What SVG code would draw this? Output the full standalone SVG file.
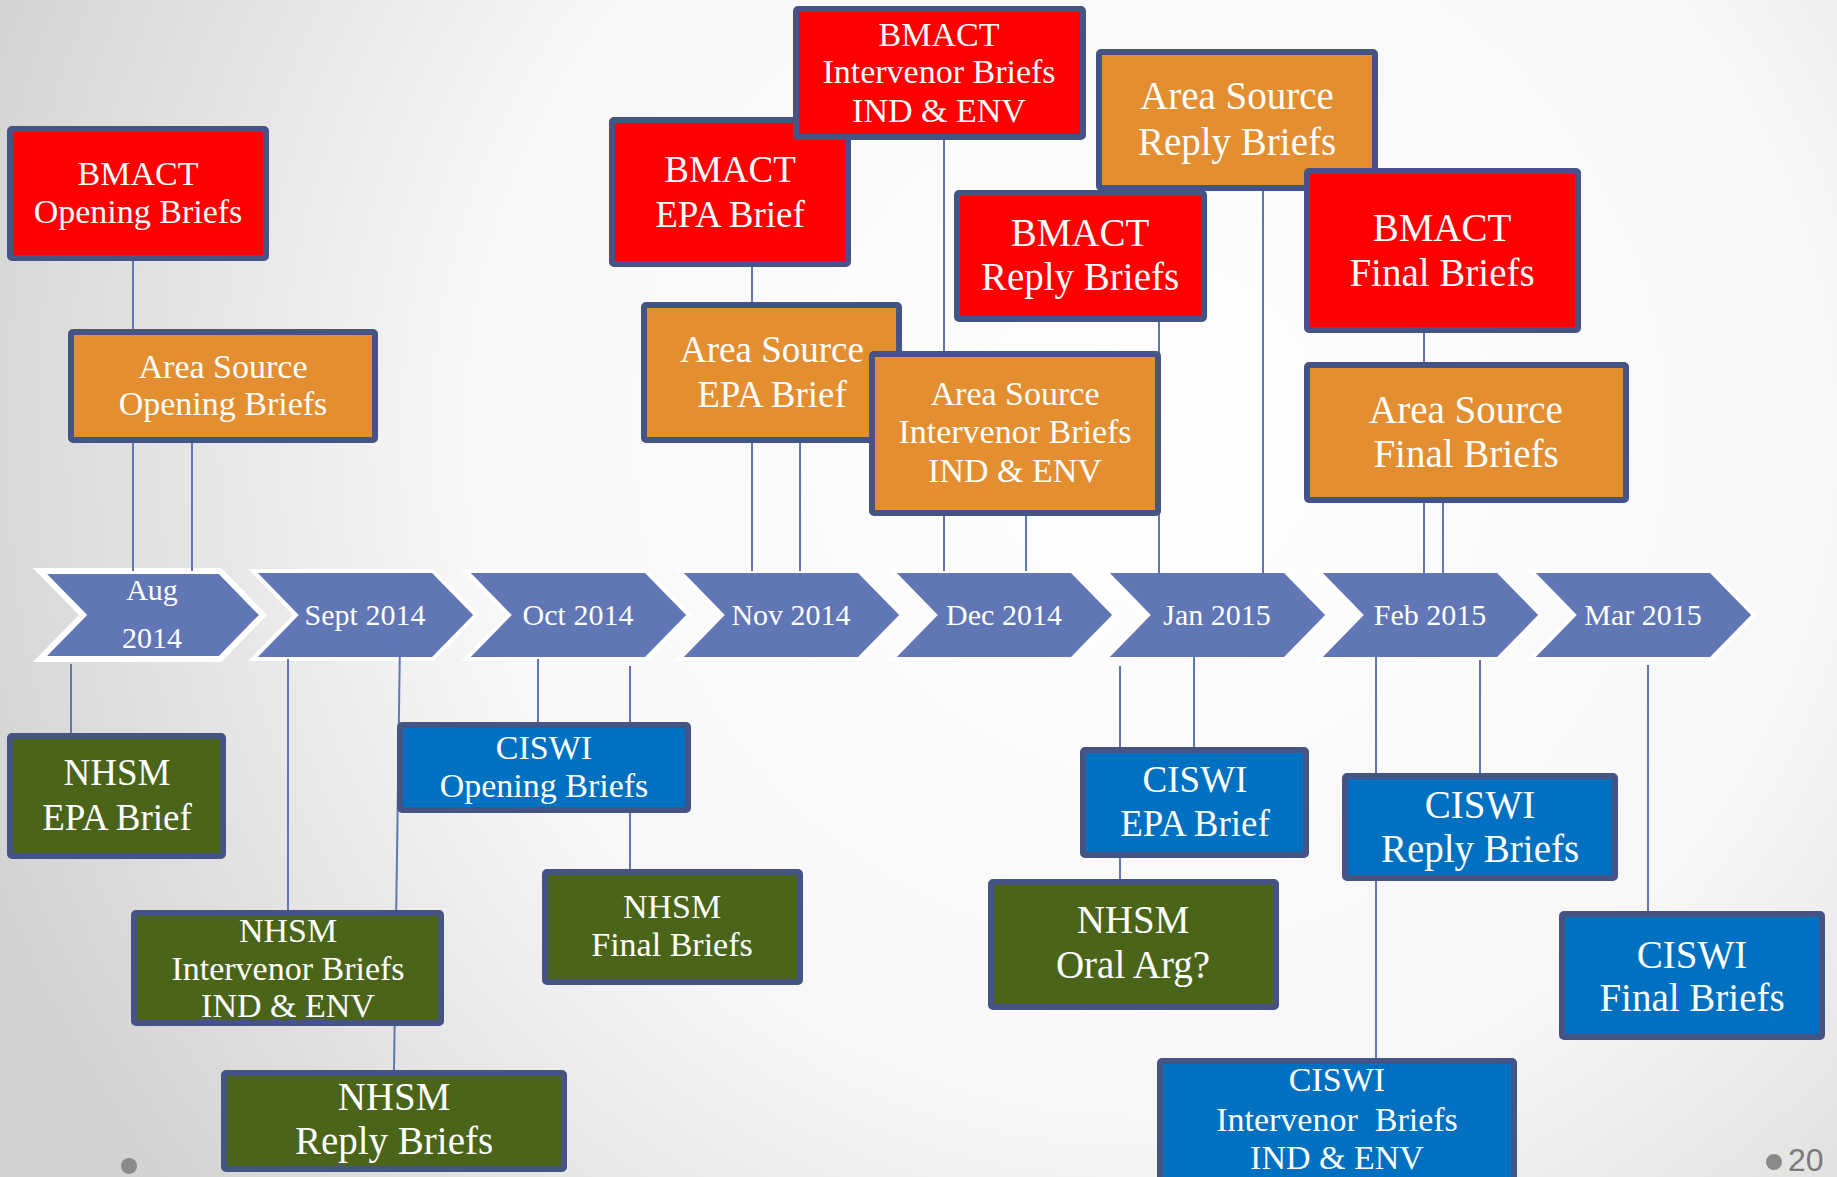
<svg xmlns="http://www.w3.org/2000/svg" width="1837" height="1177" viewBox="0 0 1837 1177">
<defs>
<radialGradient id="bg" cx="1150" cy="430" r="1250" gradientUnits="userSpaceOnUse">
<stop offset="0" stop-color="#ffffff"/>
<stop offset="0.55" stop-color="#f7f7f7"/>
<stop offset="1" stop-color="#d2d2d2"/>
</radialGradient>
<style>
.chev{fill:#6176B5;stroke:#ffffff;stroke-width:4;stroke-linejoin:miter}
.chev1{stroke-width:6}
.ml{font-family:"Liberation Serif","Times New Roman",serif;font-size:30px;fill:#ffffff;text-anchor:middle}
.ln{stroke:#6176B5;stroke-width:2;fill:none}
.box{stroke:#465485;stroke-width:6}
.red{fill:#FF0000}
.org{fill:#E38E31}
.grn{fill:#4A6519}
.blu{fill:#0070C0}
.t{font-family:"Liberation Serif","Times New Roman",serif;fill:#ffffff;text-anchor:middle;white-space:pre}
.s34{font-size:34px}
.s37{font-size:37px}
.s39{font-size:39px}
.dot{fill:#8a8a8a}
</style>
</defs>
<rect x="0" y="0" width="1837" height="1177" fill="url(#bg)"/>

<g id="timeline">
<g id="m-aug"><path class="chev chev1" d="M40,571 L220,571 L263,615 L220,659 L40,659 L83,615 Z"/><text class="ml" x="152" y="600">Aug</text><text class="ml" x="152" y="648">2014</text></g>
<g id="m-sep"><path class="chev" d="M253,571 L433,571 L476,615 L433,659 L253,659 L296,615 Z"/><text class="ml" x="365" y="625">Sept 2014</text></g>
<g id="m-oct"><path class="chev" d="M466,571 L646,571 L689,615 L646,659 L466,659 L509,615 Z"/><text class="ml" x="578" y="625">Oct 2014</text></g>
<g id="m-nov"><path class="chev" d="M679,571 L859,571 L902,615 L859,659 L679,659 L722,615 Z"/><text class="ml" x="791" y="625">Nov 2014</text></g>
<g id="m-dec"><path class="chev" d="M892,571 L1072,571 L1115,615 L1072,659 L892,659 L935,615 Z"/><text class="ml" x="1004" y="625">Dec 2014</text></g>
<g id="m-jan"><path class="chev" d="M1105,571 L1285,571 L1328,615 L1285,659 L1105,659 L1148,615 Z"/><text class="ml" x="1217" y="625">Jan 2015</text></g>
<g id="m-feb"><path class="chev" d="M1318,571 L1498,571 L1541,615 L1498,659 L1318,659 L1361,615 Z"/><text class="ml" x="1430" y="625">Feb 2015</text></g>
<g id="m-mar"><path class="chev" d="M1531,571 L1711,571 L1754,615 L1711,659 L1531,659 L1574,615 Z"/><text class="ml" x="1643" y="625">Mar 2015</text></g>
</g>

<g id="connectors">
<line class="ln" x1="133" y1="261" x2="133" y2="571"/>
<line class="ln" x1="192" y1="443" x2="192" y2="571"/>
<line class="ln" x1="71" y1="664" x2="71" y2="733"/>
<line class="ln" x1="288" y1="659" x2="288" y2="911"/>
<line class="ln" x1="400" y1="640" x2="394" y2="1070"/>
<line class="ln" x1="538" y1="659" x2="538" y2="722"/>
<line class="ln" x1="630" y1="666" x2="630" y2="869"/>
<line class="ln" x1="752" y1="267" x2="752" y2="571"/>
<line class="ln" x1="800" y1="443" x2="800" y2="571"/>
<line class="ln" x1="944" y1="140" x2="944" y2="571"/>
<line class="ln" x1="1026" y1="516" x2="1026" y2="571"/>
<line class="ln" x1="1159" y1="322" x2="1159" y2="598"/>
<line class="ln" x1="1263" y1="191" x2="1263" y2="595"/>
<line class="ln" x1="1120" y1="666" x2="1120" y2="880"/>
<line class="ln" x1="1194" y1="640" x2="1194" y2="747"/>
<line class="ln" x1="1424" y1="333" x2="1424" y2="574"/>
<line class="ln" x1="1443" y1="503" x2="1443" y2="574"/>
<line class="ln" x1="1376" y1="640" x2="1376" y2="1058"/>
<line class="ln" x1="1480" y1="660" x2="1480" y2="773"/>
<line class="ln" x1="1648" y1="665" x2="1648" y2="911"/>
</g>

<g id="bmact-opening"><rect class="box red" x="10" y="129" width="256" height="129" rx="2"/><text class="t s34" x="138" y="185">BMACT</text><text class="t s34" x="138" y="223">Opening Briefs</text></g>
<g id="as-opening"><rect class="box org" x="71" y="332" width="304" height="108" rx="2"/><text class="t s34" x="223" y="378">Area Source</text><text class="t s34" x="223" y="415">Opening Briefs</text></g>
<g id="bmact-epa"><rect class="box red" x="612" y="120" width="236" height="144" rx="2"/><text class="t s37" x="730" y="182">BMACT</text><text class="t s37" x="730" y="227">EPA Brief</text></g>
<g id="bmact-interv"><rect class="box red" x="796" y="9" width="287" height="128" rx="2"/><text class="t s34" x="939" y="46">BMACT</text><text class="t s34" x="939" y="83">Intervenor Briefs</text><text class="t s34" x="939" y="122">IND &amp; ENV</text></g>
<g id="as-epa"><rect class="box org" x="644" y="305" width="255" height="135" rx="2"/><text class="t s37" x="772" y="362">Area Source</text><text class="t s37" x="772" y="407">EPA Brief</text></g>
<g id="as-interv"><rect class="box org" x="872" y="354" width="286" height="159" rx="2"/><text class="t s34" x="1015" y="405">Area Source</text><text class="t s34" x="1015" y="443">Intervenor Briefs</text><text class="t s34" x="1015" y="482">IND &amp; ENV</text></g>
<g id="as-reply"><rect class="box org" x="1099" y="52" width="276" height="136" rx="2"/><text class="t s39" x="1237" y="109">Area Source</text><text class="t s39" x="1237" y="155">Reply Briefs</text></g>
<g id="bmact-reply"><rect class="box red" x="957" y="193" width="247" height="126" rx="2"/><text class="t s39" x="1080" y="246">BMACT</text><text class="t s39" x="1080" y="290">Reply Briefs</text></g>
<g id="bmact-final"><rect class="box red" x="1307" y="171" width="271" height="159" rx="2"/><text class="t s39" x="1442" y="241">BMACT</text><text class="t s39" x="1442" y="286">Final Briefs</text></g>
<g id="as-final"><rect class="box org" x="1307" y="365" width="319" height="135" rx="2"/><text class="t s39" x="1466" y="423">Area Source</text><text class="t s39" x="1466" y="467">Final Briefs</text></g>

<g id="nhsm-epa"><rect class="box grn" x="10" y="736" width="213" height="120" rx="2"/><text class="t s37" x="117" y="785">NHSM</text><text class="t s37" x="117" y="830">EPA Brief</text></g>
<g id="ciswi-opening"><rect class="box blu" x="400" y="725" width="288" height="85" rx="2"/><text class="t s34" x="544" y="759">CISWI</text><text class="t s34" x="544" y="797">Opening Briefs</text></g>
<g id="nhsm-final"><rect class="box grn" x="545" y="872" width="255" height="110" rx="2"/><text class="t s34" x="672" y="918">NHSM</text><text class="t s34" x="672" y="956">Final Briefs</text></g>
<g id="nhsm-interv"><rect class="box grn" x="134" y="913" width="307" height="110" rx="2"/><text class="t s34" x="288" y="942">NHSM</text><text class="t s34" x="288" y="980">Intervenor Briefs</text><text class="t s34" x="288" y="1017">IND &amp; ENV</text></g>
<g id="nhsm-reply"><rect class="box grn" x="224" y="1073" width="340" height="96" rx="2"/><text class="t s39" x="394" y="1110">NHSM</text><text class="t s39" x="394" y="1154">Reply Briefs</text></g>
<g id="ciswi-epa"><rect class="box blu" x="1083" y="750" width="223" height="105" rx="2"/><text class="t s37" x="1195" y="792">CISWI</text><text class="t s37" x="1195" y="836">EPA Brief</text></g>
<g id="nhsm-oral"><rect class="box grn" x="991" y="882" width="285" height="125" rx="2"/><text class="t s39" x="1133" y="933">NHSM</text><text class="t s39" x="1133" y="978">Oral Arg?</text></g>
<g id="ciswi-reply"><rect class="box blu" x="1345" y="776" width="270" height="102" rx="2"/><text class="t s39" x="1480" y="818">CISWI</text><text class="t s39" x="1480" y="862">Reply Briefs</text></g>
<g id="ciswi-interv"><rect class="box blu" x="1160" y="1061" width="354" height="130" rx="2"/><text class="t s34" x="1337" y="1091">CISWI</text><text class="t s34" x="1337" y="1131" xml:space="preserve">Intervenor  Briefs</text><text class="t s34" x="1337" y="1169">IND &amp; ENV</text></g>
<g id="ciswi-final"><rect class="box blu" x="1562" y="914" width="260" height="123" rx="2"/><text class="t s39" x="1692" y="968">CISWI</text><text class="t s39" x="1692" y="1011">Final Briefs</text></g>

<g id="footer">
<circle class="dot" cx="1774" cy="1162" r="8"/>
<circle class="dot" cx="129" cy="1166" r="8"/>
<text x="1788" y="1171" font-family="'Liberation Sans',Arial,sans-serif" font-size="32" fill="#7a7a7a">20</text>
</g>
</svg>
